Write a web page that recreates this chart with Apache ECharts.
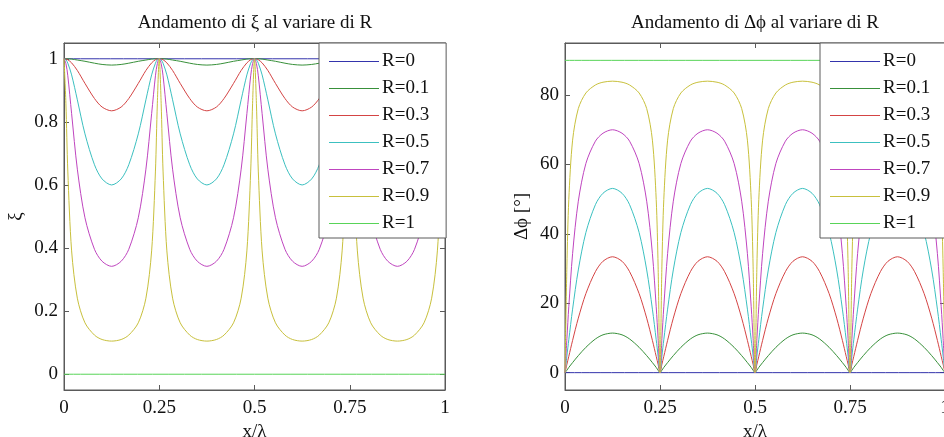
<!DOCTYPE html>
<html>
<head>
<meta charset="utf-8">
<script src="https://cdn.jsdelivr.net/npm/echarts@6/dist/echarts.min.js"></script>
<style>
  html, body { margin: 0; padding: 0; background: #fff; }
  #chart { width: 944px; height: 437px; }
</style>
</head>
<body>
<div id="chart"></div>
<script>
// x/λ sample positions, denser near the cusps at multiples of 0.25
const xs = [
  0, 0.005, 0.01, 0.02, 0.035, 0.055, 0.08, 0.1, 0.125, 0.15, 0.17, 0.195, 0.215, 0.23, 0.24, 0.245,
  0.25, 0.255, 0.26, 0.27, 0.285, 0.305, 0.33, 0.35, 0.375, 0.4, 0.42, 0.445, 0.465, 0.48, 0.49, 0.495,
  0.5, 0.505, 0.51, 0.52, 0.535, 0.555, 0.58, 0.6, 0.625, 0.65, 0.67, 0.695, 0.715, 0.73, 0.74, 0.745,
  0.75, 0.755, 0.76, 0.77, 0.785, 0.805, 0.83, 0.85, 0.875, 0.9, 0.92, 0.945, 0.965, 0.98, 0.99, 0.995,
  1
];
const xEnds = [0, 1];

const names = ["R=0", "R=0.1", "R=0.3", "R=0.5", "R=0.7", "R=0.9", "R=1"];
const colors = ["#3434ac", "#38903a", "#d44444", "#3cc0c0", "#bf45bf", "#c8c03c", "#58d458"];

// left plot: ξ
const xiR0 = [1, 1];
const xiR01 = [
  1, 1, 1, 0.999, 0.996, 0.992, 0.986, 0.982, 0.98, 0.982, 0.986, 0.992, 0.996, 0.999, 1, 1,
  1, 1, 1, 0.999, 0.996, 0.992, 0.986, 0.982, 0.98, 0.982, 0.986, 0.992, 0.996, 0.999, 1, 1,
  1, 1, 1, 0.999, 0.996, 0.992, 0.986, 0.982, 0.98, 0.982, 0.986, 0.992, 0.996, 0.999, 1, 1,
  1, 1, 1, 0.999, 0.996, 0.992, 0.986, 0.982, 0.98, 0.982, 0.986, 0.992, 0.996, 0.999, 1, 1,
  1
];
const xiR03 = [
  1, 0.999, 0.997, 0.987, 0.963, 0.922, 0.874, 0.847, 0.835, 0.847, 0.874, 0.922, 0.963, 0.987, 0.997, 0.999,
  1, 0.999, 0.997, 0.987, 0.963, 0.922, 0.874, 0.847, 0.835, 0.847, 0.874, 0.922, 0.963, 0.987, 0.997, 0.999,
  1, 0.999, 0.997, 0.987, 0.963, 0.922, 0.874, 0.847, 0.835, 0.847, 0.874, 0.922, 0.963, 0.987, 0.997, 0.999,
  1, 0.999, 0.997, 0.987, 0.963, 0.922, 0.874, 0.847, 0.835, 0.847, 0.874, 0.922, 0.963, 0.987, 0.997, 0.999,
  1
];
const xiR05 = [
  1, 0.997, 0.986, 0.949, 0.87, 0.762, 0.664, 0.619, 0.6, 0.619, 0.664, 0.762, 0.87, 0.949, 0.986, 0.997,
  1, 0.997, 0.986, 0.949, 0.87, 0.762, 0.664, 0.619, 0.6, 0.619, 0.664, 0.762, 0.87, 0.949, 0.986, 0.997,
  1, 0.997, 0.986, 0.949, 0.87, 0.762, 0.664, 0.619, 0.6, 0.619, 0.664, 0.762, 0.87, 0.949, 0.986, 0.997,
  1, 0.997, 0.986, 0.949, 0.87, 0.762, 0.664, 0.619, 0.6, 0.619, 0.664, 0.762, 0.87, 0.949, 0.986, 0.997,
  1
];
const xiR07 = [
  1, 0.985, 0.946, 0.826, 0.65, 0.496, 0.396, 0.358, 0.342, 0.358, 0.396, 0.496, 0.65, 0.826, 0.946, 0.985,
  1, 0.985, 0.946, 0.826, 0.65, 0.496, 0.396, 0.358, 0.342, 0.358, 0.396, 0.496, 0.65, 0.826, 0.946, 0.985,
  1, 0.985, 0.946, 0.826, 0.65, 0.496, 0.396, 0.358, 0.342, 0.358, 0.396, 0.496, 0.65, 0.826, 0.946, 0.985,
  1, 0.985, 0.946, 0.826, 0.65, 0.496, 0.396, 0.358, 0.342, 0.358, 0.396, 0.496, 0.65, 0.826, 0.946, 0.985,
  1
];
const xiR09 = [
  1, 0.859, 0.644, 0.391, 0.241, 0.163, 0.124, 0.11, 0.105, 0.11, 0.124, 0.163, 0.241, 0.391, 0.644, 0.859,
  1, 0.859, 0.644, 0.391, 0.241, 0.163, 0.124, 0.11, 0.105, 0.11, 0.124, 0.163, 0.241, 0.391, 0.644, 0.859,
  1, 0.859, 0.644, 0.391, 0.241, 0.163, 0.124, 0.11, 0.105, 0.11, 0.124, 0.163, 0.241, 0.391, 0.644, 0.859,
  1, 0.859, 0.644, 0.391, 0.241, 0.163, 0.124, 0.11, 0.105, 0.11, 0.124, 0.163, 0.241, 0.391, 0.644, 0.859,
  1
];
const xiR1 = [0, 0];

// right plot: Δφ in degrees
const phiR0 = [0, 0];
const phiR01 = [
  0, 0.7, 1.5, 2.9, 4.9, 7.3, 9.7, 10.9, 11.4, 10.9, 9.7, 7.3, 4.9, 2.9, 1.5, 0.7,
  0, 0.7, 1.5, 2.9, 4.9, 7.3, 9.7, 10.9, 11.4, 10.9, 9.7, 7.3, 4.9, 2.9, 1.5, 0.7,
  0, 0.7, 1.5, 2.9, 4.9, 7.3, 9.7, 10.9, 11.4, 10.9, 9.7, 7.3, 4.9, 2.9, 1.5, 0.7,
  0, 0.7, 1.5, 2.9, 4.9, 7.3, 9.7, 10.9, 11.4, 10.9, 9.7, 7.3, 4.9, 2.9, 1.5, 0.7,
  0
];
const phiR03 = [
  0, 2.4, 4.7, 9.3, 15.7, 22.8, 29.1, 32.1, 33.4, 32.1, 29.1, 22.8, 15.7, 9.3, 4.7, 2.4,
  0, 2.4, 4.7, 9.3, 15.7, 22.8, 29.1, 32.1, 33.4, 32.1, 29.1, 22.8, 15.7, 9.3, 4.7, 2.4,
  0, 2.4, 4.7, 9.3, 15.7, 22.8, 29.1, 32.1, 33.4, 32.1, 29.1, 22.8, 15.7, 9.3, 4.7, 2.4,
  0, 2.4, 4.7, 9.3, 15.7, 22.8, 29.1, 32.1, 33.4, 32.1, 29.1, 22.8, 15.7, 9.3, 4.7, 2.4,
  0
];
const phiR05 = [
  0, 4.8, 9.5, 18.3, 29.6, 40.4, 48.4, 51.7, 53.1, 51.7, 48.4, 40.4, 29.6, 18.3, 9.5, 4.8,
  0, 4.8, 9.5, 18.3, 29.6, 40.4, 48.4, 51.7, 53.1, 51.7, 48.4, 40.4, 29.6, 18.3, 9.5, 4.8,
  0, 4.8, 9.5, 18.3, 29.6, 40.4, 48.4, 51.7, 53.1, 51.7, 48.4, 40.4, 29.6, 18.3, 9.5, 4.8,
  0, 4.8, 9.5, 18.3, 29.6, 40.4, 48.4, 51.7, 53.1, 51.7, 48.4, 40.4, 29.6, 18.3, 9.5, 4.8,
  0
];
const phiR07 = [
  0, 9.8, 19, 34.3, 49.4, 60.3, 66.7, 69, 70, 69, 66.7, 60.3, 49.4, 34.3, 19, 9.8,
  0, 9.8, 19, 34.3, 49.4, 60.3, 66.7, 69, 70, 69, 66.7, 60.3, 49.4, 34.3, 19, 9.8,
  0, 9.8, 19, 34.3, 49.4, 60.3, 66.7, 69, 70, 69, 66.7, 60.3, 49.4, 34.3, 19, 9.8,
  0, 9.8, 19, 34.3, 49.4, 60.3, 66.7, 69, 70, 69, 66.7, 60.3, 49.4, 34.3, 19, 9.8,
  0
];
const phiR09 = [
  0, 30.7, 49.9, 67, 76.1, 80.6, 82.9, 83.7, 84, 83.7, 82.9, 80.6, 76.1, 67, 49.9, 30.7,
  0, 30.7, 49.9, 67, 76.1, 80.6, 82.9, 83.7, 84, 83.7, 82.9, 80.6, 76.1, 67, 49.9, 30.7,
  0, 30.7, 49.9, 67, 76.1, 80.6, 82.9, 83.7, 84, 83.7, 82.9, 80.6, 76.1, 67, 49.9, 30.7,
  0, 30.7, 49.9, 67, 76.1, 80.6, 82.9, 83.7, 84, 83.7, 82.9, 80.6, 76.1, 67, 49.9, 30.7,
  0
];
const phiR1 = [90, 90];

const xTicks = [0, 0.25, 0.5, 0.75, 1];
const xiTicks = [0, 0.2, 0.4, 0.6, 0.8, 1];
const phiTicks = [0, 20, 40, 60, 80];

const FONT = "Liberation Serif";
const AXIS_COLOR = "#5a5a5a";
const TEXT_SIZE = 19;

const xiData = [[xEnds, xiR0], [xs, xiR01], [xs, xiR03], [xs, xiR05], [xs, xiR07], [xs, xiR09], [xEnds, xiR1]];
const phiData = [[xEnds, phiR0], [xs, phiR01], [xs, phiR03], [xs, phiR05], [xs, phiR07], [xs, phiR09], [xEnds, phiR1]];

function pairs(xArr, yArr) {
  return xArr.map((x, i) => [x, yArr[i]]);
}

function xAxisOf(gridIndex, top) {
  return {
    type: "value",
    gridIndex: gridIndex,
    position: top ? "top" : "bottom",
    min: 0,
    max: 1,
    name: top ? "" : "x/λ",
    nameLocation: "middle",
    nameGap: 31,
    nameTextStyle: { fontFamily: FONT, fontSize: TEXT_SIZE, color: "#111" },
    axisLine: { show: true, onZero: false, lineStyle: { color: AXIS_COLOR, width: 1 } },
    axisTick: { show: true, inside: true, length: 5, customValues: xTicks, lineStyle: { color: AXIS_COLOR } },
    axisLabel: {
      show: !top,
      customValues: xTicks,
      margin: 9,
      fontFamily: FONT,
      fontSize: TEXT_SIZE,
      color: "#111",
    },
    splitLine: { show: false },
  };
}

function yAxisOf(gridIndex, right, min, max, ticks, name, nameGap) {
  return {
    type: "value",
    gridIndex: gridIndex,
    position: right ? "right" : "left",
    min: min,
    max: max,
    name: right ? "" : name,
    nameLocation: "middle",
    nameRotate: 90,
    nameGap: nameGap,
    nameTextStyle: { fontFamily: FONT, fontSize: TEXT_SIZE, color: "#111" },
    axisLine: { show: true, onZero: false, lineStyle: { color: AXIS_COLOR, width: 1 } },
    axisTick: { show: true, inside: true, length: 5, customValues: ticks, lineStyle: { color: AXIS_COLOR } },
    axisLabel: {
      show: !right,
      customValues: ticks,
      margin: 6,
      fontFamily: FONT,
      fontSize: TEXT_SIZE,
      color: "#111",
    },
    splitLine: { show: false },
  };
}

function legendOf(left) {
  return {
    data: names,
    orient: "vertical",
    left: left,
    top: 43,
    icon: "rect",
    itemWidth: 50,
    itemHeight: 1,
    itemGap: 8,
    padding: [9, 17, 5, 10],
    backgroundColor: "#fff",
    borderColor: AXIS_COLOR,
    borderWidth: 1,
    borderRadius: 0,
    selectedMode: false,
    textStyle: { fontFamily: FONT, fontSize: TEXT_SIZE, color: "#111", lineHeight: 19, padding: [0, 0, 0, -2] },
    z: 10,
  };
}

function lineSeries(name, color, xAxisIndex, data) {
  return {
    name: name,
    type: "line",
    xAxisIndex: xAxisIndex,
    yAxisIndex: xAxisIndex,
    data: data,
    showSymbol: false,
    symbol: "none",
    smooth: 0.3,
    lineStyle: { color: color, width: 1 },
    itemStyle: { color: color },
  };
}

const series = [];
xiData.forEach((d, i) => {
  series.push(lineSeries(names[i], colors[i], 0, pairs(d[0], d[1])));
});
phiData.forEach((d, i) => {
  series.push(lineSeries(names[i], colors[i], 2, pairs(d[0], d[1])));
});

const titleFont = "19px 'Liberation Serif'";

const option = {
  animation: false,
  backgroundColor: "#fff",
  graphic: [
    {
      type: "text",
      x: 255,
      y: 23,
      style: { text: "Andamento di ξ al variare di R", font: titleFont, fill: "#111", textAlign: "center", textVerticalAlign: "middle" },
    },
    {
      type: "text",
      x: 755,
      y: 23,
      style: { text: "Andamento di Δϕ al variare di R", font: titleFont, fill: "#111", textAlign: "center", textVerticalAlign: "middle" },
    },
  ],
  legend: [legendOf(319), legendOf(820)],
  grid: [
    { left: 64, top: 43, width: 381, height: 347, show: true, borderColor: AXIS_COLOR, borderWidth: 1, outerBoundsMode: "none" },
    { left: 565, top: 43, width: 380, height: 347, show: true, borderColor: AXIS_COLOR, borderWidth: 1, outerBoundsMode: "none" },
  ],
  xAxis: [xAxisOf(0, false), xAxisOf(0, true), xAxisOf(1, false), xAxisOf(1, true)],
  yAxis: [
    yAxisOf(0, false, -0.05, 1.05, xiTicks, "ξ", 38),
    yAxisOf(0, true, -0.05, 1.05, xiTicks, "", 0),
    yAxisOf(1, false, -5, 95, phiTicks, "Δϕ [°]", 33),
    yAxisOf(1, true, -5, 95, phiTicks, "", 0),
  ],
  series: series,
};

const chart = echarts.init(document.getElementById("chart"), null, { renderer: "canvas" });
chart.setOption(option);
window.addEventListener("resize", () => {
  chart.resize();
});
</script>
</body>
</html>
